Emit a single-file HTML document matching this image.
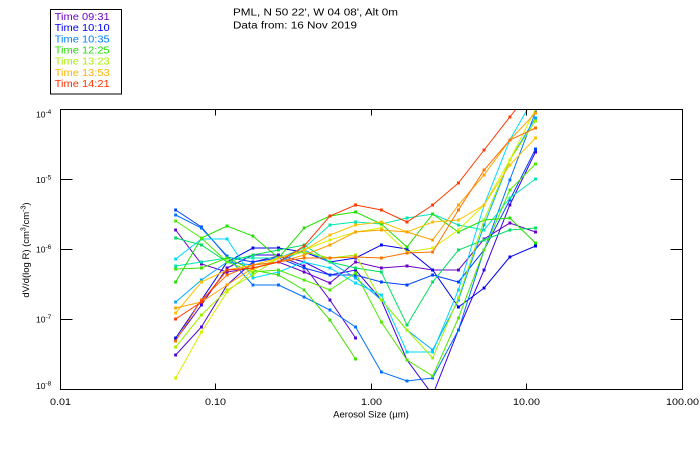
<!DOCTYPE html>
<html>
<head>
<meta charset="utf-8">
<style>
html,body{margin:0;padding:0;background:#fff;}
svg{display:block;}
text{font-family:"Liberation Sans",sans-serif;fill:#000;}
</style>
</head>
<body>
<svg width="700" height="450" viewBox="0 0 700 450" xmlns="http://www.w3.org/2000/svg">
<defs>
<clipPath id="pc"><rect x="60.5" y="109.5" width="622" height="280"/></clipPath>
<marker id="m1" markerWidth="3" markerHeight="3" refX="1.5" refY="1.5" markerUnits="userSpaceOnUse"><rect width="3" height="3" fill="#6a00c8"/></marker>
<marker id="m2" markerWidth="3" markerHeight="3" refX="1.5" refY="1.5" markerUnits="userSpaceOnUse"><rect width="3" height="3" fill="#5000d8"/></marker>
<marker id="m3" markerWidth="3" markerHeight="3" refX="1.5" refY="1.5" markerUnits="userSpaceOnUse"><rect width="3" height="3" fill="#3c00e8"/></marker>
<marker id="m4" markerWidth="3" markerHeight="3" refX="1.5" refY="1.5" markerUnits="userSpaceOnUse"><rect width="3" height="3" fill="#0000f0"/></marker>
<marker id="m5" markerWidth="3" markerHeight="3" refX="1.5" refY="1.5" markerUnits="userSpaceOnUse"><rect width="3" height="3" fill="#0040ff"/></marker>
<marker id="m6" markerWidth="3" markerHeight="3" refX="1.5" refY="1.5" markerUnits="userSpaceOnUse"><rect width="3" height="3" fill="#0070ff"/></marker>
<marker id="m7" markerWidth="3" markerHeight="3" refX="1.5" refY="1.5" markerUnits="userSpaceOnUse"><rect width="3" height="3" fill="#00a8ff"/></marker>
<marker id="m8" markerWidth="3" markerHeight="3" refX="1.5" refY="1.5" markerUnits="userSpaceOnUse"><rect width="3" height="3" fill="#00d8ff"/></marker>
<marker id="m9" markerWidth="3" markerHeight="3" refX="1.5" refY="1.5" markerUnits="userSpaceOnUse"><rect width="3" height="3" fill="#00e8b0"/></marker>
<marker id="m10" markerWidth="3" markerHeight="3" refX="1.5" refY="1.5" markerUnits="userSpaceOnUse"><rect width="3" height="3" fill="#00e060"/></marker>
<marker id="m11" markerWidth="3" markerHeight="3" refX="1.5" refY="1.5" markerUnits="userSpaceOnUse"><rect width="3" height="3" fill="#20e000"/></marker>
<marker id="m12" markerWidth="3" markerHeight="3" refX="1.5" refY="1.5" markerUnits="userSpaceOnUse"><rect width="3" height="3" fill="#40e000"/></marker>
<marker id="m13" markerWidth="3" markerHeight="3" refX="1.5" refY="1.5" markerUnits="userSpaceOnUse"><rect width="3" height="3" fill="#50e800"/></marker>
<marker id="m14" markerWidth="3" markerHeight="3" refX="1.5" refY="1.5" markerUnits="userSpaceOnUse"><rect width="3" height="3" fill="#a0f000"/></marker>
<marker id="m15" markerWidth="3" markerHeight="3" refX="1.5" refY="1.5" markerUnits="userSpaceOnUse"><rect width="3" height="3" fill="#d8f000"/></marker>
<marker id="m16" markerWidth="3" markerHeight="3" refX="1.5" refY="1.5" markerUnits="userSpaceOnUse"><rect width="3" height="3" fill="#ffc000"/></marker>
<marker id="m17" markerWidth="3" markerHeight="3" refX="1.5" refY="1.5" markerUnits="userSpaceOnUse"><rect width="3" height="3" fill="#ffa000"/></marker>
<marker id="m18" markerWidth="3" markerHeight="3" refX="1.5" refY="1.5" markerUnits="userSpaceOnUse"><rect width="3" height="3" fill="#ff7000"/></marker>
<marker id="m19" markerWidth="3" markerHeight="3" refX="1.5" refY="1.5" markerUnits="userSpaceOnUse"><rect width="3" height="3" fill="#ff3800"/></marker>
</defs>

<!-- Header text -->
<text x="233" y="15.5" font-size="10" textLength="165" lengthAdjust="spacingAndGlyphs">PML, N 50 22', W 04 08', Alt 0m</text>
<text x="233" y="28.5" font-size="10" textLength="124" lengthAdjust="spacingAndGlyphs">Data from: 16 Nov 2019</text>

<!-- Legend -->
<rect x="50.5" y="9.5" width="71" height="84.5" fill="none" stroke="#000" stroke-width="1"/>
<g font-size="10">
<text x="54.7" y="20" style="fill:#7000c8" textLength="55" lengthAdjust="spacingAndGlyphs">Time 09:31</text>
<text x="54.7" y="31.2" style="fill:#0000ff" textLength="55" lengthAdjust="spacingAndGlyphs">Time 10:10</text>
<text x="54.7" y="42.4" style="fill:#0080ff" textLength="55" lengthAdjust="spacingAndGlyphs">Time 10:35</text>
<text x="54.7" y="53.5" style="fill:#20e000" textLength="55" lengthAdjust="spacingAndGlyphs">Time 12:25</text>
<text x="54.7" y="64.6" style="fill:#a8f000" textLength="55" lengthAdjust="spacingAndGlyphs">Time 13:23</text>
<text x="54.7" y="75.8" style="fill:#ffb400" textLength="55" lengthAdjust="spacingAndGlyphs">Time 13:53</text>
<text x="54.7" y="86.9" style="fill:#ff3000" textLength="55" lengthAdjust="spacingAndGlyphs">Time 14:21</text>
</g>

<!-- Series -->
<g clip-path="url(#pc)" fill="none" stroke-width="1">
<polyline stroke="#6a00c8" marker-start="url(#m1)" marker-mid="url(#m1)" marker-end="url(#m1)" points="175.7,230 201.4,264 227.1,272 252.8,268 278.5,262 304.2,272 329.9,283 355.6,262 381.3,268 407,266 432.7,270 458.4,270 484.1,239 509.8,223 535.5,232"/>
<polyline stroke="#5000d8" marker-start="url(#m2)" marker-mid="url(#m2)" marker-end="url(#m2)" points="175.7,355 201.4,327 227.1,285 252.8,262 278.5,256 304.2,266 329.9,300 355.6,338"/>
<polyline stroke="#3c00e8" marker-start="url(#m3)" marker-mid="url(#m3)" marker-end="url(#m3)" points="175.7,340 201.4,305 227.1,268 252.8,255 278.5,255 304.2,262 329.9,275 355.6,270 381.3,300 407,360 432.7,395 458.4,330 484.1,270 509.8,205 535.5,152"/>
<polyline stroke="#0000f0" marker-start="url(#m4)" marker-mid="url(#m4)" marker-end="url(#m4)" points="175.7,338 201.4,300 227.1,262 252.8,248 278.5,248 304.2,252 329.9,262 355.6,258 381.3,245 407,249 432.7,270 458.4,307 484.1,288 509.8,257 535.5,246"/>
<polyline stroke="#0040ff" marker-start="url(#m5)" marker-mid="url(#m5)" marker-end="url(#m5)" points="175.7,210 201.4,227 227.1,257 252.8,262 278.5,258 304.2,268 329.9,275 355.6,275 381.3,282 407,285 432.7,275 458.4,282 484.1,250 509.8,200 535.5,149"/>
<polyline stroke="#0070ff" marker-start="url(#m6)" marker-mid="url(#m6)" marker-end="url(#m6)" points="175.7,215 201.4,228 227.1,256 252.8,285 278.5,285 304.2,297 329.9,310 355.6,327 381.3,372 407,381 432.7,378 458.4,330 484.1,250 509.8,180 535.5,112"/>
<polyline stroke="#00a8ff" marker-start="url(#m7)" marker-mid="url(#m7)" marker-end="url(#m7)" points="175.7,302 201.4,280 227.1,262 252.8,265 278.5,262 304.2,250 329.9,262 355.6,278 381.3,300 407,330 432.7,350 458.4,300 484.1,225 509.8,160 535.5,118"/>
<polyline stroke="#00d8ff" marker-start="url(#m8)" marker-mid="url(#m8)" marker-end="url(#m8)" points="175.7,259 201.4,239 227.1,239 252.8,278 278.5,272 304.2,262 329.9,268 355.6,283 381.3,295 407,352 432.7,352 458.4,290 484.1,205 509.8,140 535.5,95"/>
<polyline stroke="#00e8b0" marker-start="url(#m9)" marker-mid="url(#m9)" marker-end="url(#m9)" points="175.7,266 201.4,262 227.1,258 252.8,258 278.5,258 304.2,248 329.9,225 355.6,222 381.3,224 407,218 432.7,214 458.4,225 484.1,230 509.8,198 535.5,179"/>
<polyline stroke="#00e060" marker-start="url(#m10)" marker-mid="url(#m10)" marker-end="url(#m10)" points="175.7,238 201.4,245 227.1,262 252.8,255 278.5,250 304.2,245 329.9,262 355.6,268 381.3,272 407,325 432.7,282 458.4,250 484.1,240 509.8,230 535.5,228"/>
<polyline stroke="#20e000" marker-start="url(#m11)" marker-mid="url(#m11)" marker-end="url(#m11)" points="175.7,282 201.4,238 227.1,226 252.8,236 278.5,258 304.2,228 329.9,216 355.6,212 381.3,224 407,247 432.7,214 458.4,232 484.1,220 509.8,218 535.5,243"/>
<polyline stroke="#40e000" marker-start="url(#m12)" marker-mid="url(#m12)" marker-end="url(#m12)" points="175.7,269 201.4,268 227.1,258 252.8,270 278.5,275 304.2,290 329.9,320 355.6,359"/>
<polyline stroke="#50e800" marker-start="url(#m13)" marker-mid="url(#m13)" marker-end="url(#m13)" points="175.7,221 201.4,238 227.1,262 252.8,272 278.5,270 304.2,280 329.9,290 355.6,273 381.3,322 407,360 432.7,376 458.4,318 484.1,250 509.8,190 535.5,164"/>
<polyline stroke="#a0f000" marker-start="url(#m14)" marker-mid="url(#m14)" marker-end="url(#m14)" points="175.7,347 201.4,315 227.1,290 252.8,275 278.5,258 304.2,252 329.9,258 355.6,255 381.3,300 407,330 432.7,358 458.4,298 484.1,220 509.8,160 535.5,121"/>
<polyline stroke="#d8f000" marker-start="url(#m15)" marker-mid="url(#m15)" marker-end="url(#m15)" points="175.7,378 201.4,332 227.1,292 252.8,270 278.5,258 304.2,250 329.9,240 355.6,232 381.3,228 407,252 432.7,248 458.4,230 484.1,205 509.8,160 535.5,109"/>
<polyline stroke="#ffc000" marker-start="url(#m16)" marker-mid="url(#m16)" marker-end="url(#m16)" points="175.7,313 201.4,282 227.1,270 252.8,265 278.5,258 304.2,250 329.9,235 355.6,225 381.3,222 407,232 432.7,222 458.4,220 484.1,205 509.8,165 535.5,138"/>
<polyline stroke="#ffa000" marker-start="url(#m17)" marker-mid="url(#m17)" marker-end="url(#m17)" points="175.7,308 201.4,302 227.1,285 252.8,268 278.5,262 304.2,255 329.9,245 355.6,232 381.3,230 407,232 432.7,240 458.4,205 484.1,175 509.8,140 535.5,113"/>
<polyline stroke="#ff7000" marker-start="url(#m18)" marker-mid="url(#m18)" marker-end="url(#m18)" points="175.7,341 201.4,300 227.1,275 252.8,265 278.5,262 304.2,258 329.9,258 355.6,257 381.3,258 407,253 432.7,252 458.4,210 484.1,170 509.8,140 535.5,128"/>
<polyline stroke="#ff3800" marker-start="url(#m19)" marker-mid="url(#m19)" marker-end="url(#m19)" points="175.7,319 201.4,302 227.1,270 252.8,268 278.5,262 304.2,246 329.9,216 355.6,205 381.3,210 407,222 432.7,205 458.4,183 484.1,150 509.8,117 535.5,85"/>
</g>

<!-- Axes box -->
<rect x="60.5" y="109.5" width="622" height="280" fill="none" stroke="#000" stroke-width="1"/>
<g stroke="#000" stroke-width="1">
<line x1="60.5" y1="179.5" x2="72.5" y2="179.5"/>
<line x1="60.5" y1="249.5" x2="72.5" y2="249.5"/>
<line x1="60.5" y1="319.5" x2="72.5" y2="319.5"/>
<line x1="670.5" y1="179.5" x2="682.5" y2="179.5"/>
<line x1="670.5" y1="249.5" x2="682.5" y2="249.5"/>
<line x1="670.5" y1="319.5" x2="682.5" y2="319.5"/>
<line x1="215.5" y1="389.5" x2="215.5" y2="383.5"/>
<line x1="371.5" y1="389.5" x2="371.5" y2="383.5"/>
<line x1="526.5" y1="389.5" x2="526.5" y2="383.5"/>
<line x1="215.5" y1="109.5" x2="215.5" y2="115.5"/>
<line x1="371.5" y1="109.5" x2="371.5" y2="115.5"/>
<line x1="526.5" y1="109.5" x2="526.5" y2="115.5"/>
</g>

<!-- y tick labels -->
<g font-size="8.5">
<text x="36" y="117.5">10<tspan font-size="6.5" dy="-3.5">-4</tspan></text>
<text x="36" y="183">10<tspan font-size="6.5" dy="-3.5">-5</tspan></text>
<text x="36" y="252.5">10<tspan font-size="6.5" dy="-3.5">-6</tspan></text>
<text x="36" y="322.5">10<tspan font-size="6.5" dy="-3.5">-7</tspan></text>
<text x="36" y="389">10<tspan font-size="6.5" dy="-3.5">-8</tspan></text>
</g>

<!-- x tick labels -->
<g font-size="9.5" text-anchor="middle">
<text x="60.5" y="405" textLength="21" lengthAdjust="spacingAndGlyphs">0.01</text>
<text x="215.5" y="405" textLength="21" lengthAdjust="spacingAndGlyphs">0.10</text>
<text x="371.5" y="405" textLength="21" lengthAdjust="spacingAndGlyphs">1.00</text>
<text x="526.5" y="405" textLength="27" lengthAdjust="spacingAndGlyphs">10.00</text>
<text x="682.5" y="405" textLength="33" lengthAdjust="spacingAndGlyphs">100.00</text>
</g>

<!-- axis titles -->
<text x="371" y="417.5" font-size="9.5" text-anchor="middle">Aerosol Size (µm)</text>
<text transform="translate(29,250) rotate(-90)" font-size="9.5" text-anchor="middle">dV/d(log R) (cm<tspan font-size="7" dy="-3.5">3</tspan><tspan dy="3.5">/cm</tspan><tspan font-size="7" dy="-3.5">-3</tspan><tspan dy="3.5">)</tspan></text>
</svg>
</body>
</html>
